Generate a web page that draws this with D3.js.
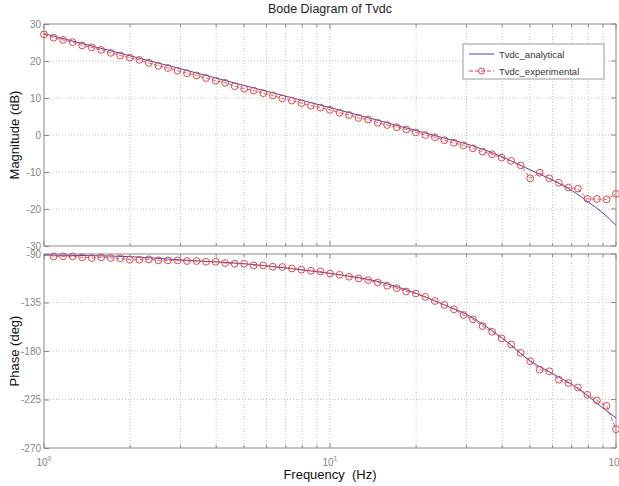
<!DOCTYPE html>
<html>
<head>
<meta charset="utf-8">
<script src="https://cdn.jsdelivr.net/npm/d3@7/dist/d3.min.js"></script>
<style>
  body { margin: 0; background: #fff; }
  svg { font-family: "Liberation Sans", Arial, sans-serif; }
</style>
</head>
<body>
<div id="chart"></div>
<script>
// analytical curve
const freqAna = [1, 2, 3, 5, 7, 10, 15, 20, 25, 30, 40, 50, 60, 70, 80, 90, 100];
const magAna = [27.4, 21.4, 17.9, 13.4, 10.5, 7.4, 3.8, 1.2, -0.8, -2.4, -5.9, -9.4, -12.2, -15.0, -18.1, -21.1, -24.4];
const phaseAna = [-91, -92.5, -95.5, -99, -103, -108, -116, -126.5, -137, -146, -168, -189, -201, -211, -222, -233, -242];

// experimental points
const freqExp = [1.000, 1.080, 1.166, 1.259, 1.359, 1.468, 1.585, 1.711, 1.848, 1.995,
  2.154, 2.326, 2.512, 2.712, 2.929, 3.162, 3.415, 3.687, 3.981, 4.299,
  4.642, 5.012, 5.412, 5.843, 6.310, 6.813, 7.356, 7.943, 8.577, 9.261,
  10.00, 10.80, 11.66, 12.59, 13.59, 14.68, 15.85, 17.11, 18.48, 19.95,
  21.54, 23.26, 25.12, 27.12, 29.29, 31.62, 34.15, 36.87, 39.81, 42.99,
  46.42, 50.12, 54.12, 58.43, 63.10, 68.13, 73.56, 79.43, 85.77, 92.61, 100.0];
const magExp = [27.2, 26.3, 25.7, 25.1, 24.2, 23.7, 23.0, 22.2, 21.5, 20.9,
  20.3, 19.5, 18.7, 18.1, 17.4, 16.7, 16.1, 15.4, 14.7, 14.1,
  13.2, 12.5, 12.0, 11.3, 10.7, 9.9, 9.3, 8.6, 7.9, 7.4,
  6.8, 6.0, 5.4, 4.6, 4.2, 3.3, 2.7, 2.1, 1.5, 0.7,
  0.0, -0.6, -1.4, -2.1, -2.8, -3.6, -4.5, -5.2, -6.1, -7.0,
  -8.2, -11.7, -10.2, -11.7, -12.9, -14.2, -14.5, -17.3, -17.3, -17.4, -15.9];
const phaseExp = [-89.5, -92.2, -92.2, -92.2, -93.1, -93.7, -93.1, -93.7, -94.0, -95.3,
  -95.3, -95.0, -95.9, -95.9, -95.9, -96.5, -96.5, -97.2, -97.2, -98.4,
  -99.0, -99.0, -100.6, -100.6, -101.8, -102.1, -103.4, -104.6, -105.6, -106.2,
  -108.2, -109.3, -111.1, -112.7, -114.2, -116.4, -119.5, -121.7, -124.8, -126.7,
  -129.8, -133.6, -137.3, -141.3, -146.6, -150.6, -156.9, -162.1, -168.3, -173.9,
  -181.7, -189.5, -197.3, -198.8, -206.6, -209.7, -213.8, -220.6, -225.9, -230.9, -252.6];

const magTicks = [-30, -20, -10, 0, 10, 20, 30];
const phaseTicks = [-270, -225, -180, -135, -90];
const decadeTicks = [1, 10, 100];
const seriesNames = ["Tvdc_analytical", "Tvdc_experimental"];

const W = 619, H = 486;
const left = 44, right = 616;
const blue = "#4646b4", red = "#e0484a", axisGray = "#8a8a8a", gridGray = "#c4c4c4", labelGray = "#858585";

const svg = d3.select("#chart").append("svg").attr("width", W).attr("height", H);

const x = d3.scaleLog().domain([1, 100]).range([left, right]);
const minorX = d3.range(1, 10).flatMap(m => [m, m * 10]).concat([100]).sort((a, b) => a - b);

function panel(id, domain, top, bottom, ticks) {
    const y = d3.scaleLinear().domain(domain).range([bottom, top]);
    const g = svg.append("g");
    svg.append("clipPath").attr("id", id).append("rect")
        .attr("x", left).attr("y", top).attr("width", right - left).attr("height", bottom - top);

    // grid
    g.selectAll(".vgrid").data(minorX.filter(v => v > 1 && v < 100)).join("line")
        .attr("x1", d => x(d)).attr("x2", d => x(d)).attr("y1", top).attr("y2", bottom)
        .attr("stroke", gridGray).attr("stroke-dasharray", "1,2");
    g.selectAll(".hgrid").data(ticks.slice(1, -1)).join("line")
        .attr("x1", left).attr("x2", right).attr("y1", d => y(d)).attr("y2", d => y(d))
        .attr("stroke", gridGray).attr("stroke-dasharray", "1,2");

    // box
    g.append("rect").attr("x", left).attr("y", top).attr("width", right - left).attr("height", bottom - top)
        .attr("fill", "none").attr("stroke", axisGray);

    // y ticks left + right, inward; plain hyphen minus like the original
    const yl = d3.axisLeft(y).tickValues(ticks).tickSize(-5).tickPadding(3).tickFormat(d => String(d));
    const ya = g.append("g").attr("transform", `translate(${left},0)`).call(yl);
    ya.select(".domain").remove();
    ya.selectAll("line").attr("stroke", axisGray);
    ya.selectAll("text").attr("fill", labelGray).attr("font-size", 10).attr("font-family", "Liberation Sans, Arial");
    g.selectAll(".rtick").data(ticks).join("line")
        .attr("x1", right).attr("x2", right - 5).attr("y1", d => y(d)).attr("y2", d => y(d))
        .attr("stroke", axisGray);

    // x ticks top + bottom, inward (major longer)
    [top, bottom].forEach(edge => {
        const dir = edge === top ? 1 : -1;
        g.selectAll(null).data(minorX).join("line")
            .attr("x1", d => x(d)).attr("x2", d => x(d)).attr("y1", edge)
            .attr("y2", d => edge + dir * (decadeTicks.includes(d) ? 5 : 3))
            .attr("stroke", axisGray);
    });
    return {y, g, id};
}

const magP = panel("clipMag", [-30, 30], 24, 246, magTicks);
const phP = panel("clipPh", [-270, -90], 254, 448, phaseTicks);

function drawSeries(p, anaVals, expVals) {
    const [lo, hi] = p.y.domain();
    const layer = svg.append("g").attr("clip-path", `url(#${p.id})`);
    const lineA = d3.line().x(d => x(d[0])).y(d => p.y(d[1])).curve(d3.curveMonotoneX);
    layer.append("path").attr("d", lineA(d3.zip(freqAna, anaVals)))
        .attr("fill", "none").attr("stroke", blue).attr("stroke-width", 1);
    const lineE = d3.line().x(d => x(d[0])).y(d => p.y(d[1]));
    const pts = d3.zip(freqExp, expVals);
    layer.append("path").attr("d", lineE(pts))
        .attr("fill", "none").attr("stroke", red).attr("stroke-width", 0.9).attr("stroke-dasharray", "4,2");
    svg.append("g").selectAll("circle").data(pts.filter(d => d[1] >= lo && d[1] <= hi)).join("circle")
        .attr("cx", d => x(d[0])).attr("cy", d => p.y(d[1])).attr("r", 3.4)
        .attr("fill", "none").attr("stroke", red).attr("stroke-width", 1);
}
drawSeries(magP, magAna, magExp);
drawSeries(phP, phaseAna, phaseExp);

// x tick labels 10^n
const xl = svg.append("g").selectAll("text").data(decadeTicks).join("text")
    .attr("x", d => x(d)).attr("y", 466).attr("text-anchor", "middle")
    .attr("fill", labelGray).attr("font-size", 10);
xl.append("tspan").text("10");
xl.append("tspan").attr("dy", -5).attr("font-size", 7).text((d, i) => i);

// titles
svg.append("text").attr("x", (left + right) / 2).attr("y", 13).attr("text-anchor", "middle")
    .attr("font-size", 12.5).attr("fill", "#222").text("Bode Diagram of Tvdc");
svg.append("text").attr("x", (left + right) / 2).attr("y", 479).attr("text-anchor", "middle")
    .attr("font-size", 13).attr("fill", "#111").attr("xml:space", "preserve").text("Frequency  (Hz)");
svg.append("text").attr("transform", `translate(19,${(24 + 246) / 2}) rotate(-90)`).attr("text-anchor", "middle")
    .attr("font-size", 13).attr("fill", "#111").text("Magnitude (dB)");
svg.append("text").attr("transform", `translate(19,${(254 + 448) / 2}) rotate(-90)`).attr("text-anchor", "middle")
    .attr("font-size", 13).attr("fill", "#111").text("Phase (deg)");

// legend
const lg = svg.append("g").attr("transform", "translate(463,44)");
lg.append("rect").attr("width", 141).attr("height", 35).attr("fill", "#fff").attr("stroke", "#9a9a9a");
lg.selectAll(".item").data(seriesNames).join("g")
    .attr("transform", (d, i) => `translate(0,${10 + i * 17})`)
    .each(function (d, i) {
        const it = d3.select(this);
        it.append("line").attr("x1", 6).attr("x2", 31).attr("y1", 0).attr("y2", 0)
            .attr("stroke", i ? red : blue).attr("stroke-dasharray", i ? "4,2" : null);
        if (i) it.append("circle").attr("cx", 18.5).attr("cy", 0).attr("r", 3)
            .attr("fill", "none").attr("stroke", red);
        it.append("text").attr("x", 36).attr("y", 3.5).attr("font-size", 9.5).attr("fill", "#333").text(d);
    });
</script>
</body>
</html>
